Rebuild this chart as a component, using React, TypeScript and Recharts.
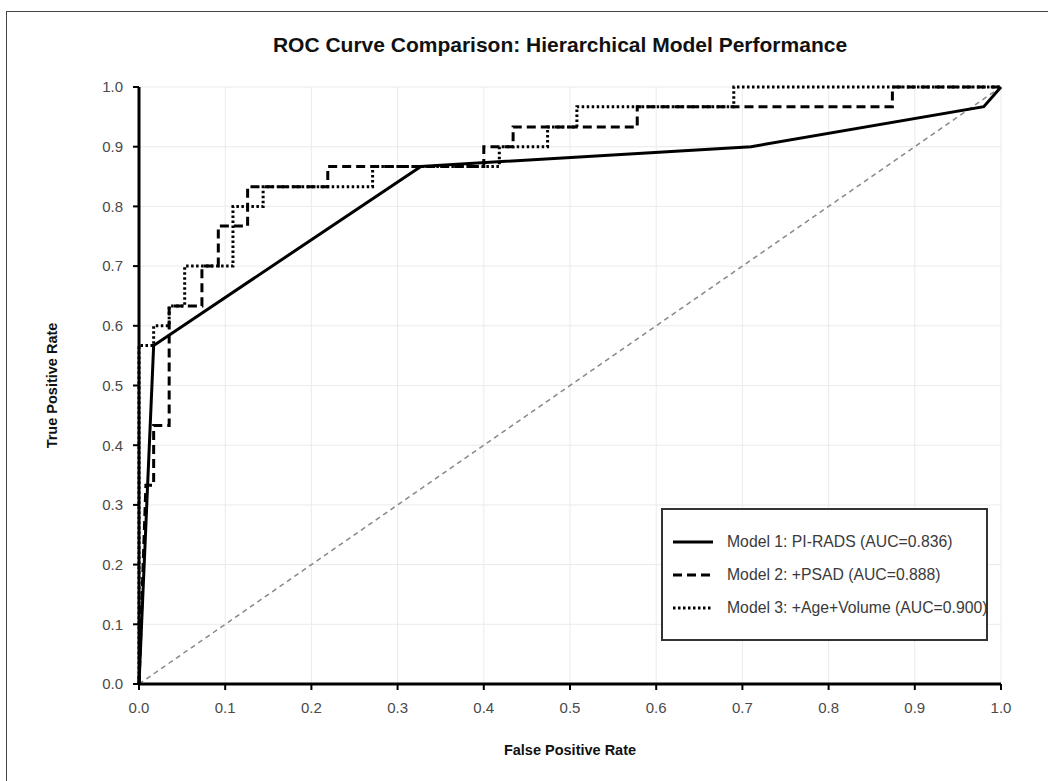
import { CartesianGrid, Legend, Line, LineChart, XAxis, YAxis } from 'recharts';

const TICKS = [0, 0.1, 0.2, 0.3, 0.4, 0.5, 0.6, 0.7, 0.8, 0.9, 1.0];

// Model 1: PI-RADS
const m1Fpr = [0, 0.017, 0.327, 0.71, 0.98, 1.0];
const m1Tpr = [0, 0.567, 0.867, 0.9, 0.967, 1.0];

// Model 2: +PSAD
const m2Fpr = [0, 0.008, 0.017, 0.017, 0.035, 0.035, 0.073, 0.073, 0.092, 0.092, 0.126, 0.126, 0.219, 0.219, 0.4, 0.4, 0.434, 0.434, 0.578, 0.578, 0.874, 0.874, 1.0];
const m2Tpr = [0, 0.333, 0.333, 0.433, 0.433, 0.633, 0.633, 0.7, 0.7, 0.767, 0.767, 0.833, 0.833, 0.867, 0.867, 0.9, 0.9, 0.933, 0.933, 0.967, 0.967, 1.0, 1.0];

// Model 3: +Age+Volume
const m3Fpr = [0, 0, 0.017, 0.017, 0.035, 0.035, 0.053, 0.053, 0.109, 0.109, 0.144, 0.144, 0.271, 0.271, 0.418, 0.418, 0.474, 0.474, 0.508, 0.508, 0.69, 0.69, 1.0];
const m3Tpr = [0, 0.567, 0.567, 0.6, 0.6, 0.633, 0.633, 0.7, 0.7, 0.8, 0.8, 0.833, 0.833, 0.867, 0.867, 0.9, 0.9, 0.933, 0.933, 0.967, 0.967, 1.0, 1.0];

const chanceFpr = [0, 1];
const chanceTpr = [0, 1];

const zip = (xs: number[], ys: number[]) => xs.map((x, i) => ({ x, y: ys[i] }));

const SERIES = [
  { name: 'Model 1: PI-RADS (AUC=0.836)', data: zip(m1Fpr, m1Tpr), dash: undefined as string | undefined },
  { name: 'Model 2: +PSAD (AUC=0.888)', data: zip(m2Fpr, m2Tpr), dash: '9 5' },
  { name: 'Model 3: +Age+Volume (AUC=0.900)', data: zip(m3Fpr, m3Tpr), dash: '2.5 2.5' },
];

const FONT = '"Liberation Sans", Arial, sans-serif';
const tickStyle = { fontSize: 15, fill: '#4a4a4a', fontFamily: FONT };
const axisLabelStyle = { fontSize: 14.5, fontWeight: 'bold', fill: '#111', fontFamily: FONT };

function LegendBox() {
  return (
    <div style={{ border: '2px solid #333', background: '#fff', padding: '15px 0 15px 10px', boxSizing: 'border-box', width: 327, fontFamily: FONT }}>
      {SERIES.map(s => (
        <div key={s.name} style={{ height: 33, display: 'flex', alignItems: 'center', whiteSpace: 'nowrap' }}>
          <svg width={40} height={6} style={{ marginRight: 14, flex: 'none' }}>
            <line x1={0} y1={3} x2={40} y2={3} stroke="#000" strokeWidth={3} strokeDasharray={s.dash} />
          </svg>
          <span style={{ fontSize: 15.75, color: '#3a3a3a' }}>{s.name}</span>
        </div>
      ))}
    </div>
  );
}

export default function App() {
  return (
    <div style={{ position: 'absolute', left: 0, top: 0, width: 1048, height: 781, background: '#fff', overflow: 'hidden' }}>
      <div style={{ position: 'absolute', left: 6, top: 11, width: 1100, height: 900, border: '1.5px solid #444' }} />
      <div style={{ position: 'absolute', left: 0, top: 33, width: 1120, textAlign: 'center', fontFamily: FONT, fontWeight: 'bold', fontSize: 21, lineHeight: '24px', color: '#111' }}>
        ROC Curve Comparison: Hierarchical Model Performance
      </div>
      <LineChart width={1048} height={781} margin={{ top: 87, right: 47, bottom: 0, left: 0 }}>
        <CartesianGrid stroke="#ebebeb" strokeWidth={1} horizontalValues={TICKS} verticalValues={TICKS} />
        <XAxis dataKey="x" type="number" domain={[0, 1]} ticks={TICKS} allowDuplicatedCategory={false}
          tickFormatter={(v: number) => v.toFixed(1)} height={97} tick={tickStyle}
          axisLine={{ stroke: '#000', strokeWidth: 3 }} tickLine={{ stroke: '#000', strokeWidth: 2 }} tickSize={6} tickMargin={12}
          label={{ value: 'False Positive Rate', position: 'insideBottom', offset: 26, style: axisLabelStyle }} />
        <YAxis dataKey="y" type="number" domain={[0, 1]} ticks={TICKS} width={139}
          tickFormatter={(v: number) => v.toFixed(1)} tick={tickStyle}
          axisLine={{ stroke: '#000', strokeWidth: 3 }} tickLine={{ stroke: '#000', strokeWidth: 2 }} tickSize={6} tickMargin={10}
          label={{ value: 'True Positive Rate', angle: -90, position: 'insideLeft', offset: 52, style: { ...axisLabelStyle, textAnchor: 'middle' } }} />
        <Line data={zip(chanceFpr, chanceTpr)} dataKey="y" type="linear" stroke="#888" strokeWidth={1.5} strokeDasharray="5 4"
          dot={false} activeDot={false} isAnimationActive={false} legendType="none" />
        {SERIES.map(s => (
          <Line key={s.name} name={s.name} data={s.data} dataKey="y" type="linear" stroke="#000" strokeWidth={3}
            strokeDasharray={s.dash} dot={false} activeDot={false} isAnimationActive={false} />
        ))}
        <Legend layout="vertical" align="center" verticalAlign="middle" content={() => <LegendBox />}
          wrapperStyle={{ left: 661, top: 508, width: 327 }} />
      </LineChart>
    </div>
  );
}
